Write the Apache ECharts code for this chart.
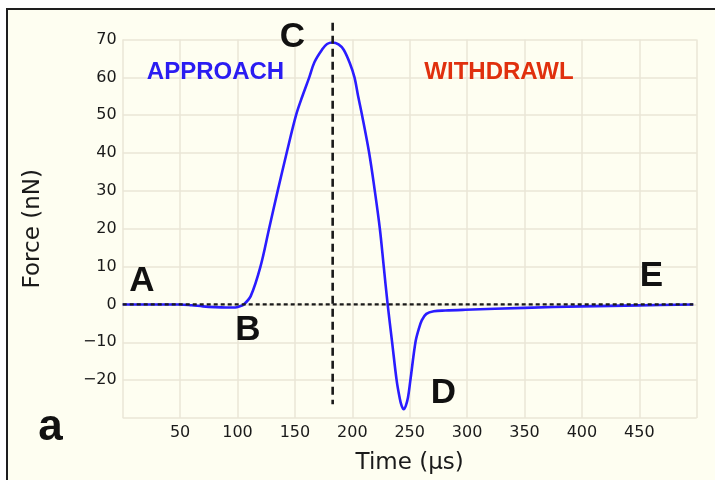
<!DOCTYPE html>
<html><head><meta charset="utf-8">
<script src="https://cdn.jsdelivr.net/npm/echarts@6/dist/echarts.min.js"></script>
<style>html,body{margin:0;padding:0;background:#fff}#c{width:715px;height:480px}</style>
</head><body><div id="c"></div>
<script>
// Data
const timeUs = [0, 30, 50, 60, 70, 80, 90, 98, 102, 105.5, 111.5, 120, 127.5, 135, 142.8, 151, 156.5, 162.5, 167, 173.6, 178, 182.9, 188, 192.5, 197.8, 201.9, 205.1, 208.5, 214.7, 219.6, 224, 227.4, 230.8, 234.7, 238.6, 241.2, 243, 244.8, 246.6, 248.5, 250.6, 255, 257.5, 260.5, 264.5, 271, 281, 298.5, 350, 400, 450, 497];
const forceNN = [0, 0, 0, -0.2, -0.5, -0.7, -0.8, -0.8, -0.5, 0, 2.2, 10, 20, 30, 40, 50, 55, 60, 64, 67.3, 68.8, 69.2, 68.7, 67.3, 63.8, 60, 55, 50, 40, 30, 20, 10, 0, -10, -20, -24.6, -26.8, -27.7, -26.8, -24.6, -20, -10, -6.9, -4.2, -2.5, -1.8, -1.6, -1.4, -0.9, -0.5, -0.25, 0];
const peakTime = 182.9;
const zeroLineX = [0, 497];
const peakLineY = [74.4, -26.4];
const xTicks = [50, 100, 150, 200, 250, 300, 350, 400, 450];
const yTicks = [-20, -10, 0, 10, 20, 30, 40, 50, 60, 70];

const chart = echarts.init(document.getElementById('c'), null, {renderer: 'canvas'});
const tickFont = 'DejaVu Sans';
chart.setOption({
  backgroundColor: '#ffffff',
  animation: false,
  grid: {left: 122.7, right: 18.3, top: 39.5, bottom: 62},
  xAxis: {
    type: 'value', min: 0, max: 500, interval: 50,
    name: 'Time (μs)', nameLocation: 'middle', nameGap: 34,
    nameTextStyle: {fontFamily: tickFont, fontSize: 23, color: '#1a1a1a'},
    axisLine: {show: false}, axisTick: {show: false},
    axisLabel: {fontFamily: tickFont, fontSize: 16, color: '#1a1a1a', margin: 7,
      formatter: v => xTicks.includes(v) ? String(v) : ''},
    splitLine: {show: true, lineStyle: {color: '#EAE6D6', width: 1.5}}
  },
  yAxis: {
    type: 'value', min: -30, max: 70, interval: 10,
    name: 'Force (nN)', nameLocation: 'middle', nameGap: 78,
    nameTextStyle: {fontFamily: tickFont, fontSize: 23, color: '#1a1a1a'},
    axisLine: {show: false}, axisTick: {show: false},
    axisLabel: {fontFamily: tickFont, fontSize: 16, color: '#1a1a1a', margin: 6,
      formatter: v => yTicks.includes(v) ? (v < 0 ? '\u2212' + Math.abs(v) : String(v)) : ''},
    splitLine: {show: true, lineStyle: {color: '#EAE6D6', width: 1.5}}
  },
  graphic: [
    {type: 'rect', z: -10, silent: true, shape: {x: 7, y: 9, width: 730, height: 490},
      style: {fill: '#FEFEF1', stroke: '#1e1e1e', lineWidth: 2}},
    {type: 'text', z: 100, x: 215.5, y: 72, style: {text: 'APPROACH', fill: '#2a1cf2', font: 'bold 24px "Liberation Sans"', textAlign: 'center', textVerticalAlign: 'middle'}},
    {type: 'text', z: 100, x: 499, y: 72, style: {text: 'WITHDRAWL', fill: '#e0300e', font: 'bold 24px "Liberation Sans"', textAlign: 'center', textVerticalAlign: 'middle'}},
    {type: 'text', z: 100, x: 142, y: 281, style: {text: 'A', fill: '#111', font: 'bold 35px "Liberation Sans"', textAlign: 'center', textVerticalAlign: 'middle'}},
    {type: 'text', z: 100, x: 248, y: 330, style: {text: 'B', fill: '#111', font: 'bold 35px "Liberation Sans"', textAlign: 'center', textVerticalAlign: 'middle'}},
    {type: 'text', z: 100, x: 292.5, y: 37, style: {text: 'C', fill: '#111', font: 'bold 35px "Liberation Sans"', textAlign: 'center', textVerticalAlign: 'middle'}},
    {type: 'text', z: 100, x: 443.5, y: 393.5, style: {text: 'D', fill: '#111', font: 'bold 35px "Liberation Sans"', textAlign: 'center', textVerticalAlign: 'middle'}},
    {type: 'text', z: 100, x: 651.5, y: 276, style: {text: 'E', fill: '#111', font: 'bold 35px "Liberation Sans"', textAlign: 'center', textVerticalAlign: 'middle'}},
    {type: 'text', z: 100, x: 50.5, y: 428, style: {text: 'a', fill: '#111', font: 'bold 44px "Liberation Sans"', textAlign: 'center', textVerticalAlign: 'middle'}}
  ],
  series: [
    {type: 'line', name: 'force', data: timeUs.map((t, i) => [t, forceNN[i]]),
      smooth: 0.35, showSymbol: false, z: 3,
      lineStyle: {color: '#2a1cff', width: 2.6}},
    {type: 'line', name: 'zero', data: zeroLineX.map(t => [t, 0]),
      showSymbol: false, z: 4, clip: false,
      lineStyle: {color: '#1a1a1a', width: 2.2, type: [4, 3]}},
    {type: 'line', name: 'peak', data: peakLineY.map(v => [peakTime, v]),
      showSymbol: false, z: 4, clip: false,
      lineStyle: {color: '#1a1a1a', width: 2.6, type: [8, 5]}}
  ]
});
</script></body></html>
